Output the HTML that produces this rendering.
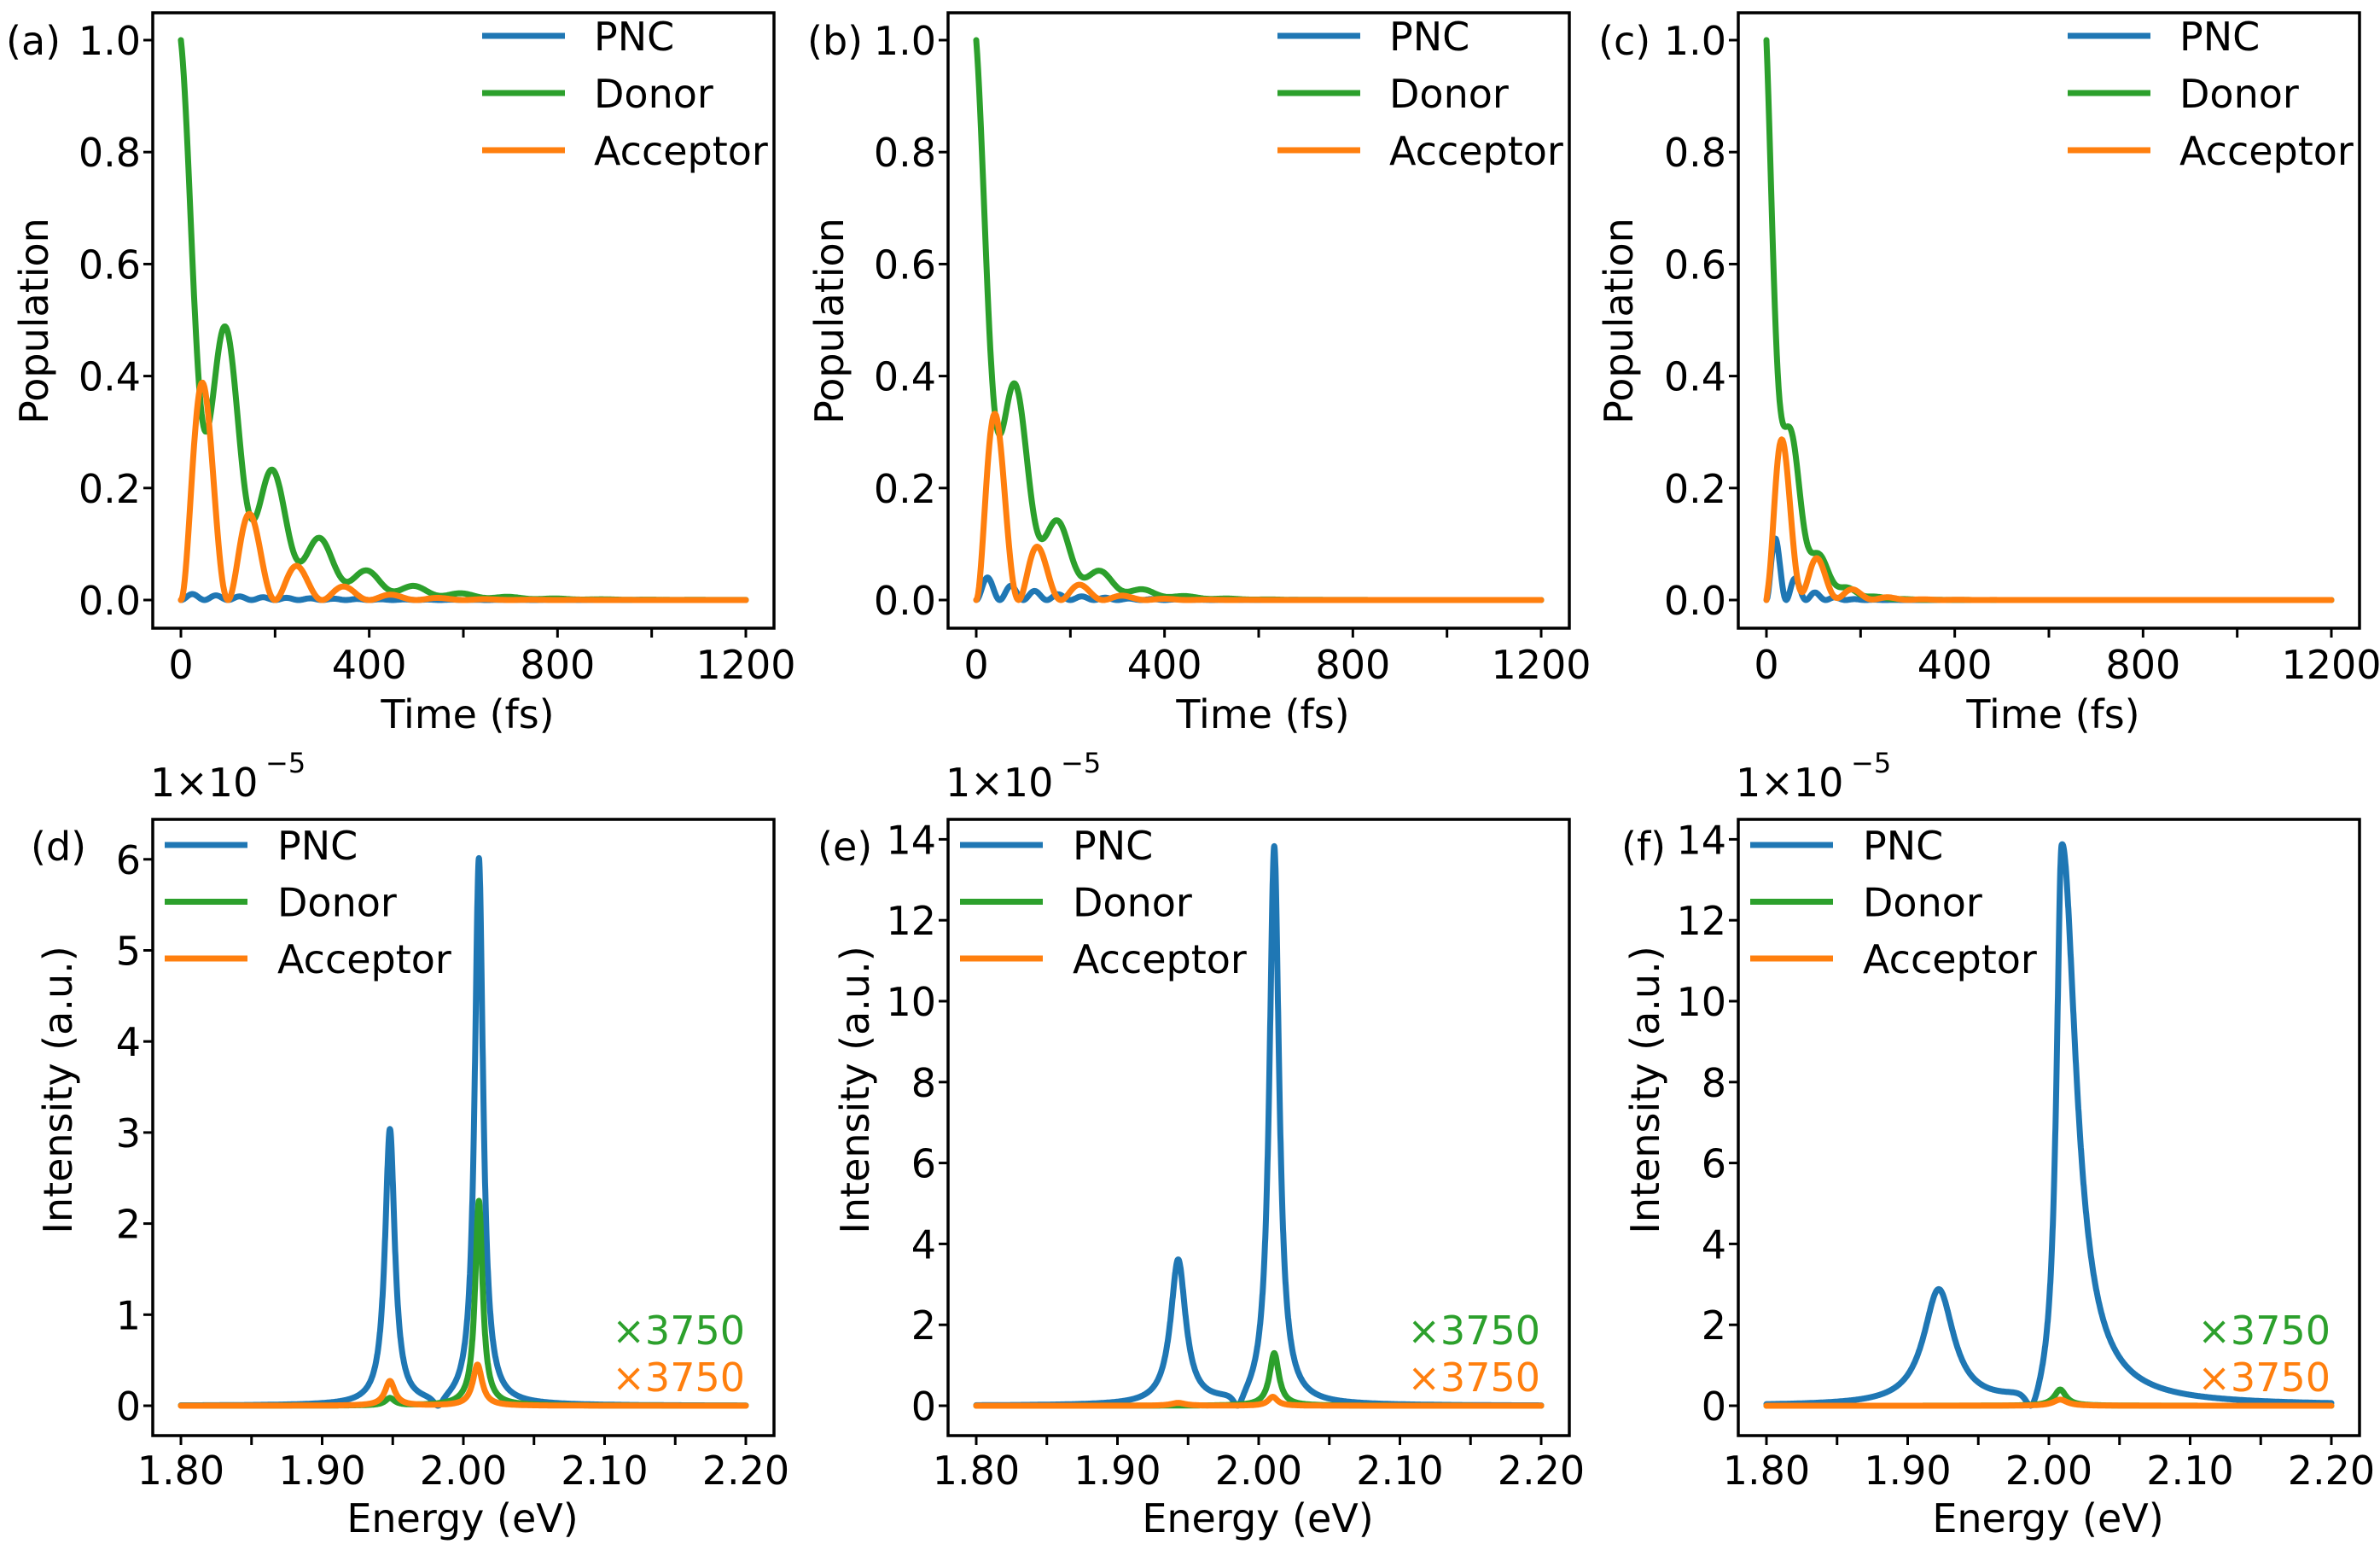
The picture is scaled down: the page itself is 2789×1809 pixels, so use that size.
<!DOCTYPE html>
<html><head><meta charset="utf-8">
<style>
html,body{margin:0;padding:0;background:#fff;}
svg{display:block;}
text{font-family:"DejaVu Sans","Liberation Sans",sans-serif;fill:#000;}
</style></head>
<body>
<svg id="s" width="2789" height="1809" viewBox="0 0 2789 1809" xmlns="http://www.w3.org/2000/svg"></svg>
<script>
const S=document.getElementById('s');
const B='#1f77b4',G='#2ca02c',O='#ff7f0e';
let out='';
function T(x,y,s,o){o=o||{};out+=`<text x="${x}" y="${y}" font-size="${o.fs||46}" text-anchor="${o.a||'start'}" ${o.fill?`style="fill:${o.fill}"`:''} ${o.tr?`transform="${o.tr}"`:''}>${s}</text>`;}
function L(x1,y1,x2,y2,c,w){out+=`<line x1="${x1}" y1="${y1}" x2="${x2}" y2="${y2}" stroke="${c}" stroke-width="${w}"/>`;}
function P(pts,c){let d='M'+pts.map(p=>p[0].toFixed(1)+','+p[1].toFixed(1)).join('L');out+=`<path d="${d}" fill="none" stroke="${c}" stroke-width="7" stroke-linejoin="round" stroke-linecap="round"/>`;}
function legend(lx,tx,y0,dy){[[B,'PNC'],[G,'Donor'],[O,'Acceptor']].forEach((e,i)=>{let y=y0+i*dy;L(lx,y,lx+97,y,e[0],7);T(tx,y+17,e[1]);});}
const tops=[
 {l:179,lab:'(a)',labx:7,ylx:40,
  pnc:t=>0.012*Math.exp(-t/200)*Math.pow(Math.sin(Math.PI*t/50),2),
  don:t=>Math.exp(-t/135)*(0.44+0.56*Math.pow(Math.cos(Math.PI*t/100),2)),
  acc:t=>0.38*Math.exp(-(t-50)/108)*Math.pow(Math.sin(Math.PI*t/100),2)},
 {l:1111,lab:'(b)',labx:946,ylx:972,
  pnc:t=>0.04*Math.exp(-(t-25)/110)*Math.pow(Math.sin(Math.PI*t/50),2),
  don:t=>Math.exp(-t/90)*(0.5+0.5*Math.pow(Math.cos(Math.PI*t/90),2)),
  acc:t=>0.32*Math.exp(-(t-45)/72)*Math.pow(Math.sin(Math.PI*t/90),2)},
 {l:2037,lab:'(c)',labx:1873,ylx:1897,
  pnc:t=>0.11*Math.exp(-(t-20)/40)*Math.pow(Math.sin(Math.PI*t/42),2),
  don:t=>Math.exp(-t/46)*(0.65+0.35*Math.pow(Math.cos(Math.PI*t/60),2)),
  acc:t=>0.28*Math.exp(-(t-37)/55)*(0.1+0.9*Math.pow(Math.sin(Math.PI*t/75),2))*(1-Math.exp(-t/8))}
];
tops.forEach(p=>{
 const l=p.l,top=15,bot=736;
 const X=t=>l+33+t*662/1200, Y=v=>703-v*656;
 [[p.pnc,B],[p.don,G],[p.acc,O]].forEach(s=>{let pts=[];for(let t=0;t<=1200;t+=2)pts.push([X(t),Y(s[0](t))]);P(pts,s[1]);});
 out+=`<rect x="${l}" y="${top}" width="728" height="${bot-top}" fill="none" stroke="#000" stroke-width="3.5"/>`;
 for(let t=0;t<=1200;t+=200){L(X(t),bot,X(t),bot+11,'#000',3);if(t%400==0)T(X(t),795,t,{a:'middle'});}
 for(let i=0;i<=5;i++){let v=i*0.2;L(l-11,Y(v),l,Y(v),'#000',3);T(l-14,Y(v)+17,v.toFixed(1),{a:'end'});}
 T(p.labx,64,p.lab);
 T(p.ylx+16,376,'Population',{a:'middle',tr:`rotate(-90 ${p.ylx+16} 376)`});
 T(l+369,853,'Time (fs)',{a:'middle'});
 legend(l+386,l+517,42,67);
});
function lor(E,c,g,h){return h*g*g/((E-c)*(E-c)+g*g);}
function dip(E,c,w,pk){let d=(E-c)*(E-c),q=(pk-c)*(pk-c);return (d/(d+w))/(q/(q+w));}
const bots=[
 {l:179,lab:'(d)',labx:36,ylx:68,unit:106.7,max:6,step:1,
  pnc:E=>(lor(E,1.948,0.0042,3.0)+lor(E,2.011,0.0036,6.0))*dip(E,1.982,0.00002,2.011),
  don:E=>lor(E,2.011,0.0032,2.25)+lor(E,1.948,0.004,0.08),
  acc:E=>lor(E,1.948,0.0042,0.27)+lor(E,2.010,0.004,0.45)},
 {l:1111,lab:'(e)',labx:958,ylx:1002,unit:47.4,max:14,step:2,
  pnc:E=>(lor(E,1.943,0.0065,3.5)+lor(E,2.011,0.0042,13.8))*dip(E,1.985,0.00002,2.011),
  don:E=>lor(E,2.011,0.004,1.3),
  acc:E=>lor(E,2.010,0.004,0.22)+lor(E,1.943,0.006,0.07)},
 {l:2037,lab:'(f)',labx:1900,ylx:1928,unit:47.4,max:14,step:2,
  pnc:E=>(lor(E,1.922,0.013,2.65)+lor(E,2.009,E<2.009?0.0045:0.012,13.8))*dip(E,1.987,0.00004,2.009),
  don:E=>lor(E,2.008,0.005,0.4),
  acc:E=>lor(E,2.008,0.006,0.15)}
];
bots.forEach(p=>{
 const l=p.l,top=960,bot=1682;
 const X=E=>l+33+(E-1.8)/0.4*662, Y=v=>1647-v*p.unit;
 [[p.pnc,B],[p.don,G],[p.acc,O]].forEach(s=>{let pts=[];for(let i=0;i<=3200;i++){let E=1.8+i*0.000125;pts.push([X(E),Y(s[0](E))]);}P(pts,s[1]);});
 out+=`<rect x="${l}" y="${top}" width="728" height="${bot-top}" fill="none" stroke="#000" stroke-width="3.5"/>`;
 for(let i=0;i<=8;i++){let E=1.8+i*0.05;L(X(E),bot,X(E),bot+11,'#000',3);if(i%2==0)T(X(E),1739,E.toFixed(2),{a:'middle'});}
 for(let v=0;v<=p.max;v+=p.step){L(l-11,Y(v),l,Y(v),'#000',3);T(l-14,Y(v)+17,v,{a:'end'});}
 T(p.labx,1008,p.lab);
 T(l-3,933,'1×10',{});
 T(l+132,905,'−5',{fs:32});
 T(p.ylx+16,1277,'Intensity (a.u.)',{a:'middle',tr:`rotate(-90 ${p.ylx+16} 1277)`});
 T(l+363,1795,'Energy (eV)',{a:'middle'});
 legend(l+14,l+146,990,66.5);
 T(l+694,1575,'×3750',{a:'end',fill:G});
 T(l+694,1630,'×3750',{a:'end',fill:O});
});
S.innerHTML=out;
</script>
</body></html>
